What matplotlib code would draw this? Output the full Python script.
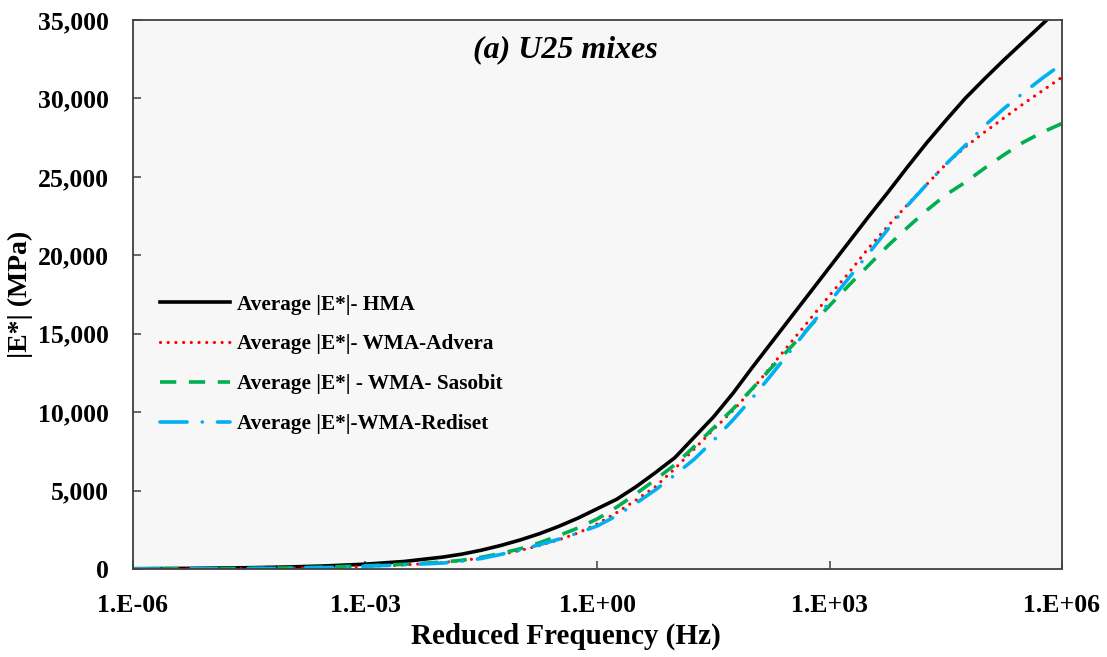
import numpy as np
import matplotlib.pyplot as plt
from matplotlib.ticker import FixedLocator, NullLocator, FuncFormatter

plt.rcParams['font.family'] = ['Liberation Serif', 'DejaVu Serif']
plt.rcParams['font.weight'] = 'bold'

# reduced frequency, log10(Hz)
log_freq = [-6.0, -5.5, -5.0, -4.5, -4.0, -3.5, -3.0, -2.5,
            -2.0, -1.75, -1.5, -1.25, -1.0, -0.75, -0.5, -0.25,
            0.0, 0.25, 0.5, 0.75, 1.0, 1.25, 1.5, 1.75,
            2.0, 2.25, 2.5, 2.75, 3.0, 3.25, 3.5, 3.75,
            4.0, 4.25, 4.5, 4.75, 5.0, 5.25, 5.5, 5.75, 6.0]

# average dynamic modulus |E*| (MPa)
e_hma = [20, 35, 55, 85, 130, 200, 310, 480,
         760, 950, 1200, 1500, 1850, 2250, 2720, 3250,
         3850, 4450, 5250, 6150, 7100, 8400, 9700, 11200,
         12850, 14450, 16050, 17650, 19250, 20850, 22450, 24000,
         25600, 27150, 28600, 30000, 31250, 32450, 33600, 34750, 35900]
e_advera = [5, 8, 15, 30, 55, 95, 160, 260,
            420, 540, 700, 920, 1180, 1500, 1860, 2300,
            2880, 3600, 4400, 5250, 6400, 7650, 8900, 10100,
            11450, 12950, 14450, 15950, 17450, 18900, 20450, 21850,
            23200, 24500, 25800, 26900, 27850, 28750, 29650, 30500, 31350]
e_sasobit = [5, 10, 20, 40, 70, 120, 210, 300,
             440, 560, 750, 990, 1290, 1670, 2130, 2620,
             3200, 3950, 4800, 5700, 6650, 7800, 9000, 10200,
             11500, 12850, 14150, 15500, 16800, 18100, 19350, 20600,
             21750, 22850, 23850, 24650, 25550, 26400, 27200, 27850, 28400]
e_rediset = [5, 8, 15, 30, 55, 100, 180, 270,
             380, 500, 670, 930, 1210, 1550, 1900, 2300,
             2750, 3400, 4200, 5050, 6000, 7000, 8200, 9500,
             10900, 12400, 13950, 15500, 17030, 18570, 20100, 21650,
             23150, 24500, 25800, 27000, 28250, 29350, 30350, 31300, 32200]

labels = ['Average |E*|- HMA', 'Average |E*|- WMA-Advera',
          'Average |E*| - WMA- Sasobit', 'Average |E*|-WMA-Rediset']

freq = 10.0 ** np.array(log_freq)

fig = plt.figure(figsize=(11.07, 6.57), dpi=100)
ax = fig.add_axes([0.1201, 0.1339, 0.8392, 0.8357])
ax.set_facecolor('#f7f7f7')

ax.plot(freq, e_hma, color='black', lw=2.6, solid_joinstyle='round', label=labels[0])
ax.plot(freq, e_advera, color='#ff0000', lw=2.3, linestyle=(0, (0.01, 2.4)),
        dash_capstyle='round', label=labels[1])
ax.plot(freq, e_sasobit, color='#00b050', lw=2.6, linestyle=(0, (4.5, 3.5)),
        dash_capstyle='butt', label=labels[2])
ax.plot(freq, e_rediset, color='#00b0f0', lw=2.6, linestyle=(0, (7.5, 4.2, 0.01, 4.2)),
        dash_capstyle='round', label=labels[3])

ax.set_xscale('log')
ax.set_xlim(1e-6, 1e6)
ax.set_ylim(0, 35000)
ax.xaxis.set_major_locator(FixedLocator([1e-6, 1e-3, 1e0, 1e3, 1e6]))
ax.xaxis.set_minor_locator(NullLocator())
ax.xaxis.set_major_formatter(FuncFormatter(lambda v, p: f"1.E{int(round(np.log10(v))):+03d}"))
ax.yaxis.set_major_locator(FixedLocator(np.arange(0, 35001, 5000)))
ax.yaxis.set_major_formatter(FuncFormatter(lambda v, p: f"{int(v):,}"))

ax.tick_params(axis='both', direction='in', length=6, width=1.1, color='#404040',
               labelsize=18.5)
ax.tick_params(axis='x', pad=18)
ax.tick_params(axis='y', pad=17)
for lbl in ax.get_xticklabels() + ax.get_yticklabels():
    lbl.set_fontweight('bold')
for sp in ax.spines.values():
    sp.set_color('#404040')
    sp.set_linewidth(1.3)

ax.set_xlabel('Reduced Frequency (Hz)', fontsize=21, fontweight='bold', labelpad=4, x=0.466)
ax.set_ylabel('|E*| (MPa)', fontsize=20, fontweight='bold', labelpad=4)

ax.text(0.466, 0.945, '(a) U25 mixes', transform=ax.transAxes, ha='center', va='center',
        fontsize=23, fontweight='bold', fontstyle='italic')

ax.legend(loc='upper left', bbox_to_anchor=(0.029, 0.50), frameon=False,
          prop={'size': 15.3, 'weight': 'bold'}, handlelength=3.3, handletextpad=0.33,
          labelspacing=0.94, borderpad=0, borderaxespad=0)

fig.savefig('out.png', dpi=100)
